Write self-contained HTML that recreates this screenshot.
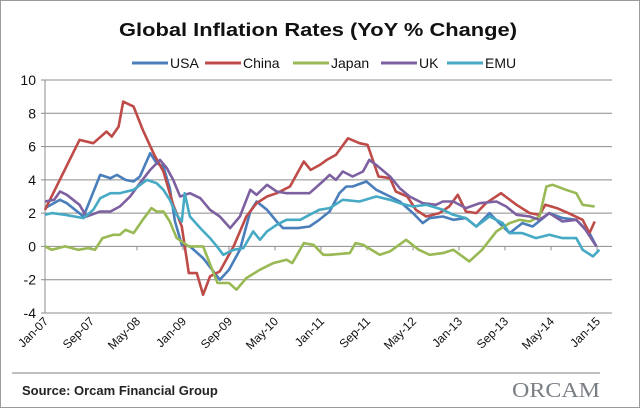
<!DOCTYPE html>
<html><head><meta charset="utf-8"><style>
html,body{margin:0;padding:0;background:#fff;}
svg{display:block;font-family:"Liberation Sans",sans-serif;}
</style></head><body>
<svg id="chart" width="640" height="408" viewBox="0 0 640 408">
<rect x="0.5" y="0.5" width="639" height="407" fill="#fff" stroke="#9a9a9a"/>
<text x="318" y="36" text-anchor="middle" font-size="18" font-weight="bold" fill="#111" textLength="398" lengthAdjust="spacingAndGlyphs">Global Inflation Rates (YoY % Change)</text>
<g id="legend"></g>
<g id="grid"></g>
<g id="yaxis"></g>
<g id="xaxis"></g>
<g id="series"></g>
<line x1="12" y1="373" x2="600" y2="373" stroke="#aaa" stroke-width="1.5"/>
<text x="22" y="395" font-size="13" font-weight="bold" fill="#222">Source: Orcam Financial Group</text>
<text x="556" y="397" text-anchor="middle" font-family="Liberation Serif,serif" font-size="21" fill="#7a7f86" textLength="88" lengthAdjust="spacingAndGlyphs">ORCAM</text>
</svg>
<script>
const yTicks = [-4,-2,0,2,4,6,8,10];
const xTickLabels = ["Jan-07","Sep-07","May-08","Jan-09","Sep-09","May-10","Jan-11","Sep-11","May-12","Jan-13","Sep-13","May-14","Jan-15"];
const xTickMonths = [0,8,16,24,32,40,48,56,64,72,80,88,96];
const seriesNames = ["USA","China","Japan","UK","EMU"];
const seriesColors = ["#4a7ebb","#be4b48","#98b954","#7d60a0","#46aac5"];
const usa = [[0,2.3],[2.6,2.8],[3.8,2.6],[6.7,1.8],[9.6,4.3],[11.4,4.1],[12.5,4.3],[14,4.0],[15.4,3.9],[16.5,4.2],[18.3,5.6],[19.4,5.0],[20.6,4.8],[21.7,3.5],[22.6,1.5],[23.8,0.1],[25.2,0],[27.5,-0.7],[30.4,-2.0],[32,-1.4],[33.9,-0.2],[35.7,2.1],[36.8,2.7],[38.6,2.2],[40.3,1.5],[41.4,1.1],[44,1.1],[46,1.2],[47.7,1.6],[49.5,2.1],[51.2,3.2],[52.4,3.6],[53.5,3.6],[55.9,3.9],[57.6,3.4],[60,3.0],[61.7,2.7],[64,2.0],[65.7,1.4],[66.9,1.7],[69.2,1.8],[71,1.6],[73.2,1.7],[75,1.2],[77.3,2.0],[79,1.4],[80.8,0.8],[83,1.4],[84.8,1.2],[87.7,2.0],[90,1.7],[92.4,1.6],[94.7,0.8],[95.9,0.0]];
const china = [[0,2.2],[6,6.4],[8.4,6.2],[10.7,6.9],[11.6,6.6],[12.8,7.2],[13.6,8.7],[15.4,8.4],[17,7.0],[19,5.5],[20.6,4.5],[22.3,2.5],[23.8,1.2],[25,-1.6],[26.4,-1.6],[27.5,-2.9],[28.7,-1.8],[30.4,-1.5],[32.8,0.0],[35,1.8],[36.8,2.6],[38.6,3.0],[40.3,3.2],[42.6,3.6],[45,5.1],[46.2,4.6],[47.8,4.9],[49,5.2],[50.6,5.5],[52.7,6.5],[54.7,6.2],[56.1,6.1],[58,4.2],[60,4.1],[61,3.3],[63,3.0],[64.5,2.2],[66.3,1.8],[68.6,2.0],[70.3,2.4],[71.8,3.1],[73.2,2.1],[75,2.0],[76.7,2.6],[79.3,3.2],[82,2.5],[84.3,2.0],[86,1.9],[87,2.5],[89,2.3],[91,2.0],[93.5,1.6],[94.7,0.8],[95.6,1.5]];
const japan = [[0,0],[1.2,-0.2],[3.5,0],[5.8,-0.2],[7.5,-0.1],[8.7,-0.2],[10,0.5],[11.9,0.7],[13,0.7],[14,1.0],[15.4,0.8],[17,1.6],[18.5,2.3],[19.4,2.1],[20.6,2.1],[21.7,1.5],[22.9,0.5],[25,0],[27.5,0],[30,-2.2],[32,-2.2],[33.3,-2.6],[35,-1.9],[37.4,-1.4],[39.7,-1.0],[42,-0.8],[43,-1.0],[45,0.2],[46.7,0.1],[48.4,-0.5],[49.5,-0.5],[53,-0.4],[54,0.2],[55.3,0.1],[58.2,-0.5],[60,-0.3],[62.8,0.4],[65,-0.2],[66.9,-0.5],[69.2,-0.4],[71,-0.2],[73.8,-0.9],[76,-0.2],[78.5,0.9],[80.8,1.4],[82.5,1.6],[84.3,1.5],[86,1.8],[87.2,3.6],[88.3,3.7],[90.6,3.4],[92.4,3.2],[93.5,2.5],[95.6,2.4]];
const uk = [[0,2.7],[1.6,2.8],[2.6,3.3],[3.8,3.1],[6,2.5],[7.2,1.8],[9.6,2.1],[11.4,2.1],[13,2.4],[14.8,3.0],[16.5,3.8],[18.3,4.6],[20,5.2],[21.2,4.7],[22.3,4.0],[23.5,3.0],[25.2,3.2],[27,2.9],[28.7,2.2],[30.4,1.8],[32.2,1.1],[33.9,1.8],[35.7,3.4],[36.8,3.1],[38.6,3.7],[40.3,3.3],[42,3.2],[44.4,3.2],[46,3.2],[48.3,3.9],[49.5,4.3],[50.6,4.0],[51.8,4.5],[53.5,4.2],[55.3,4.5],[56.4,5.2],[57.6,4.9],[60,4.2],[61.7,3.5],[63.4,3.0],[65.7,2.6],[68,2.5],[69.2,2.7],[71,2.7],[73.2,2.3],[75.6,2.6],[78.5,2.7],[80.2,2.4],[82,1.9],[84.3,1.8],[86,1.6],[87.7,2.0],[90,1.5],[92.4,1.6],[94,1.0],[95.9,0.0]];
const emu = [[0,1.9],[1.2,2.0],[3.5,1.9],[6.7,1.7],[8.4,2.2],[9.6,2.9],[11.4,3.2],[13,3.2],[14.2,3.3],[15.4,3.4],[17.7,4.0],[19.4,3.8],[20.6,3.4],[21.7,2.8],[22.9,1.9],[23.8,1.5],[24.3,3.2],[25.2,1.8],[27,1.1],[28.7,0.5],[29.9,0.0],[31,-0.5],[32.8,-0.2],[34.5,-0.1],[36.2,0.9],[37.4,0.4],[38.6,0.9],[40.3,1.3],[42,1.6],[44.4,1.6],[46,1.9],[47.7,2.2],[49.5,2.3],[51.8,2.8],[54.7,2.7],[57.6,3.0],[60,2.8],[61.7,2.6],[64,2.4],[66.3,2.5],[69.2,2.2],[71,1.9],[73.2,1.7],[75,1.2],[77.3,1.8],[79.6,1.4],[80.8,0.8],[83,0.8],[85.4,0.5],[87.7,0.7],[90,0.5],[92.4,0.5],[93.5,-0.2],[95.3,-0.6],[96.4,-0.2]];
const allSeries = [usa, china, japan, uk, emu];

const NS = "http://www.w3.org/2000/svg";
const plotL = 45, plotR = 612, yTop = 80, yBot = 313;
function xScale(m){ return plotL + m * 5.75; }
function yScale(v){ return yBot - (v - (-4)) / 14 * (yBot - yTop); }
function mk(tag, attrs, parent){ const e = document.createElementNS(NS, tag); for (const k in attrs) e.setAttribute(k, attrs[k]); parent.appendChild(e); return e; }

const grid = document.getElementById('grid');
const yaxis = document.getElementById('yaxis');
yTicks.forEach(t => {
  const y = yScale(t);
  const gl = mk('line', {x1: plotL, x2: plotR, y1: y, y2: y, stroke: '#8c8c8c', 'stroke-width': 1}, grid);
  
  
  const tk = mk('line', {x1: plotL - 4, x2: plotL, y1: y, y2: y, stroke: '#8c8c8c'}, yaxis);
  
  
  const lb = mk('text', {x: plotL - 9, y: y + 5, 'text-anchor': 'end', 'font-size': 14, fill: '#111'}, yaxis);
  lb.textContent = t;
  
  
});
const al = mk('line', {x1: plotL, x2: plotL, y1: yTop, y2: yBot, stroke: '#8c8c8c'}, yaxis);



const xaxis = document.getElementById('xaxis');
xTickMonths.forEach((m, i) => {
  const x = xScale(m);
  const tk = mk('line', {x1: x, x2: x, y1: yScale(0), y2: yScale(0) + 4, stroke: '#8c8c8c'}, xaxis);
  
  
  const lb = mk('text', {x: x + 4, y: 322, 'text-anchor': 'end', 'font-size': 12, fill: '#111', transform: 'rotate(-45 ' + (x + 4) + ' 322)'}, xaxis);
  lb.textContent = xTickLabels[i];
  
  
});

const sg = document.getElementById('series');
allSeries.forEach((s, i) => {
  const d = s.map((p, j) => (j ? 'L' : 'M') + xScale(p[0]).toFixed(1) + ' ' + yScale(p[1]).toFixed(1)).join(' ');
  const path = mk('path', {d: d, fill: 'none', stroke: seriesColors[i], 'stroke-width': 2.6, 'stroke-linejoin': 'round'}, sg);
  
  
});

const legend = document.getElementById('legend');
const legX = [132, 205, 293, 381, 447];
seriesNames.forEach((n, i) => {
  const g = mk('g', {}, legend);
  
  
  mk('line', {x1: legX[i], x2: legX[i] + 36, y1: 63, y2: 63, stroke: seriesColors[i], 'stroke-width': 3}, g);
  const t = mk('text', {x: legX[i] + 38, y: 68, 'font-size': 14, fill: '#111'}, g);
  t.textContent = n;
});
</script>
</body></html>
